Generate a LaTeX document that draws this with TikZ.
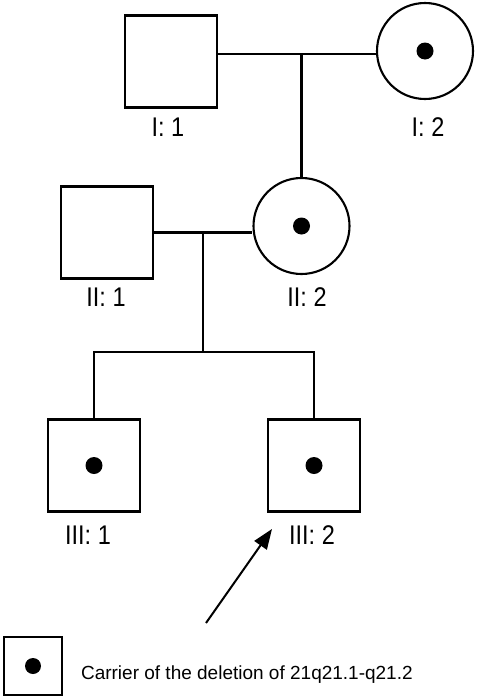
\documentclass[tikz,border=0pt]{standalone}
\usepackage{fontspec}
\setmainfont{Liberation Sans}
\newfontfamily\tagfont[FakeStretch=0.87]{Liberation Sans}
\usetikzlibrary{positioning,arrows.meta,calc}

\begin{document}
\begin{tikzpicture}[
  x=1pt, y=-1pt,
  line width=2.1pt,
  male/.style={draw, rectangle, minimum size=92pt, inner sep=0pt},
  female/.style={draw, circle, minimum size=96pt, inner sep=0pt},
  carrier/.style={circle, fill, minimum size=17pt, inner sep=0pt},
  tag/.style={inner sep=0pt, font=\tagfont\fontsize{27}{30}\selectfont},
  keytext/.style={inner sep=0pt, anchor=west, font=\fontsize{19}{22}\selectfont},
  pointer/.style={-{Triangle[length=20pt,width=15pt]}, line width=2pt}
]
\useasboundingbox (0,0) rectangle (477,699);
% Generation I
\node[male] (i1) at (171,61.5) {};
\node[female] (i2) at (425,51) {};
\node[carrier] (i2c) at (i2) {};
\node[tag] (i1tag) at (168,127) {I: 1};
\node[tag] (i2tag) at (428,127) {I: 2};
% Generation II
\node[male] (ii1) at (107,232.5) {};
\node[female] (ii2) at (301.5,226) {};
\node[carrier] (ii2c) at (ii2) {};
\node[tag] (ii1tag) at (106,297) {II: 1};
\node[tag] (ii2tag) at (307,297) {II: 2};
% Generation III
\node[male] (iii1) at (94,465.5) {};
\node[male] (iii2) at (314,465.5) {};
\node[carrier] (iii1c) at (iii1) {};
\node[carrier] (iii2c) at (iii2) {};
\node[tag] (iii1tag) at (88,535) {III: 1};
\node[tag] (iii2tag) at (312,535) {III: 2};
% Unions and descent
\coordinate (u1) at (301.5,54);
\coordinate (u2) at (203,232);
\coordinate (sib) at (203,352);
\draw (i1.east |- u1) -- (i2.west |- u1);
\draw (u1) -- (ii2.north);
\draw (ii1.east) -- (ii2.west |- ii1.east);
\draw (u2) -- (sib);
\draw (iii1.north) -- (iii1.north |- sib) -- (iii2.north |- sib) -- (iii2.north);
% Proband
\coordinate (ptail) at (206,623);
\coordinate (phead) at (272,529);
\draw[pointer] (ptail) -- (phead);
% Key
\node[male, minimum size=58pt] (key) at (33,666) {};
\node[carrier, minimum size=16pt] (keyc) at (key) {};
\node[keytext] (keylbl) at (80,675) {Carrier of the deletion of 21q21.1-q21.2};
\end{tikzpicture}
\end{document}
